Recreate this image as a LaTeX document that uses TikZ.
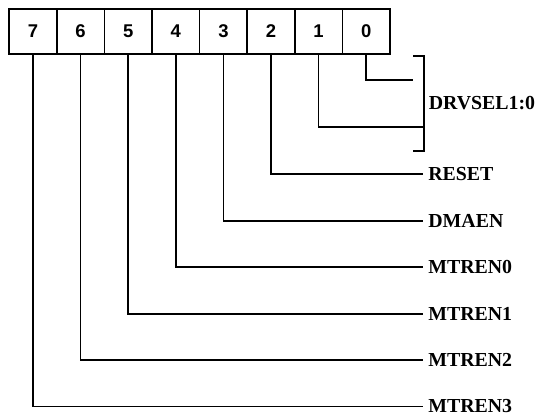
\documentclass[tikz,border=0pt]{standalone}
\usepackage{fontspec}
\setmainfont{Liberation Serif}
\newfontfamily\digitfont{Liberation Sans}
\usetikzlibrary{positioning}
\tikzset{
  bitcell/.style = {draw, line width=1pt, minimum width=0.952cm, minimum height=0.89cm,
                    inner sep=0pt, font=\digitfont\fontsize{10.5}{12}\selectfont\bfseries},
  sig/.style     = {anchor=west, inner xsep=0.1cm, inner ysep=0pt,
                    font=\fontsize{11.3}{13}\selectfont\bfseries},
  wire/.style    = {line width=1pt},
}
\begin{document}
\begin{tikzpicture}[x=0.02cm, y=-0.02cm]
  \useasboundingbox (0,0) rectangle (545,416);
  % register cells, bit 7 on the left
  \foreach \b [count=\i from 0] in {7,6,5,4,3,2,1,0} {
     \node[bitcell] (b\b) at ({33+47.6*\i},31.5) {\b};
  }
  % single bit fields
  \node[sig] (rst)  at (423,174) {RESET};
  \node[sig] (dma)  at (423,221) {DMAEN};
  \node[sig] (mt0)  at (423,267) {MTREN0};
  \node[sig] (mt1)  at (423,314) {MTREN1};
  \node[sig] (mt2)  at (423,360) {MTREN2};
  \node[sig] (mt3)  at (423,406.5) {MTREN3};
  \draw[wire] (b2.south) |- (rst.west);
  \draw[wire] (b3.south) |- (dma.west);
  \draw[wire] (b4.south) |- (mt0.west);
  \draw[wire] (b5.south) |- (mt1.west);
  \draw[wire] (b6.south) |- (mt2.west);
  \draw[wire] (b7.south) |- (mt3.west);
  % two bit field with bracket
  \coordinate (d0) at (413,80);
  \coordinate (d1) at (424,127);
  \coordinate (brtop) at (424,56);
  \coordinate (brbot) at (424,151);
  \draw[wire] (b0.south) |- (d0);
  \draw[wire] (b1.south) |- (d1);
  \draw[wire] (brtop) ++(-11,0) -- (brtop) -- (brbot) -- ++(-11,0);
  \node[sig, inner xsep=0.09cm] (drv) at (424,103.5) {DRVSEL1:0};
\end{tikzpicture}
\end{document}
